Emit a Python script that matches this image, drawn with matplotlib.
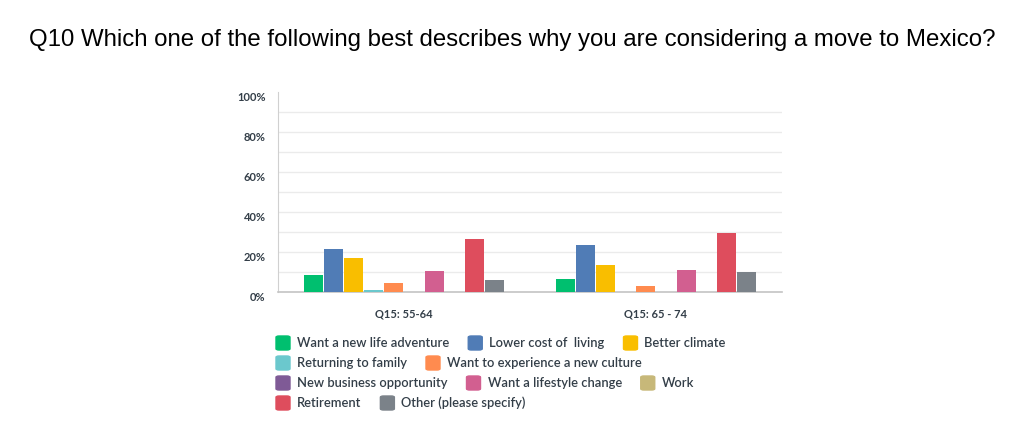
import matplotlib
matplotlib.use("Agg")
import matplotlib.pyplot as plt
from matplotlib.patches import FancyBboxPatch

# answers in the order SurveyMonkey lists them
answers = ["Want a new life adventure", "Lower cost of  living", "Better climate",
           "Returning to family", "Want to experience a new culture",
           "New business opportunity", "Want a lifestyle change", "Work",
           "Retirement", "Other (please specify)"]
colors = ["#00bf6f", "#507cb6", "#f9be00", "#6bc8cd", "#ff8b4f",
          "#7f5a96", "#d25f90", "#c7b879", "#de4d5d", "#7b8289"]
groups = ["Q15: 55-64", "Q15: 65 - 74"]
pct_55_64 = [8.5, 21.5, 17.0, 1.0, 4.7, 0.0, 10.5, 0.0, 26.5, 6.0]
pct_65_74 = [6.5, 23.5, 13.5, 0.0, 3.0, 0.0, 11.0, 0.0, 29.5, 10.0]
yticks = [0, 20, 40, 60, 80, 100]
legend_rows = [[0, 1, 2], [3, 4], [5, 6, 7], [8, 9]]

TXT = "#333e48"
FONT = "Lato"

fig = plt.figure(figsize=(10.24, 4.25), dpi=100)
ax = fig.add_axes([278 / 1024, 133 / 425, 504 / 1024, 200 / 425])

fig.text(0.5, 1 - 40 / 425, "Q10 Which one of the following best describes why you are considering a move to Mexico?",
         ha="center", va="center", fontsize=17.3, family="Liberation Sans", color="#000000")

pitch, width = 0.08, 0.075
for gi, vals in enumerate([pct_55_64, pct_65_74]):
    for i, v in enumerate(vals):
        if v > 0:
            ax.bar(gi + (i - 4.5) * pitch, v, width=width, color=colors[i], zorder=3)

ax.set_xlim(-0.5, 1.5)
ax.set_ylim(0, 100)
for y in range(10, 100, 10):
    ax.axhline(y, color="#ebebeb", lw=1, zorder=1)
for s in ["top", "right"]:
    ax.spines[s].set_visible(False)
ax.spines["left"].set_color("#d0d0d0")
ax.spines["bottom"].set_color("#c4c4c4")
ax.spines["bottom"].set_linewidth(1.2)

ax.set_yticks(yticks)
ax.set_yticklabels([f"{t}%" for t in yticks], fontsize=8, family=FONT, fontweight="bold",
                   color=TXT, va="top")
ax.tick_params(axis="y", length=0, pad=9)
ax.set_xticks(range(len(groups)))
ax.set_xticklabels(groups, fontsize=8, family=FONT, fontweight="bold", color=TXT)
ax.tick_params(axis="x", length=0, pad=12)

# legend laid out like the web page: squares with text, flowing in rows
fig.canvas.draw()
r = fig.canvas.get_renderer()
W, H = fig.bbox.width, fig.bbox.height
for ri, row in enumerate(legend_rows):
    yc = 343 + ri * 20
    x = 276
    for idx in row:
        fig.patches.append(FancyBboxPatch(((x) / W, 1 - (yc + 7) / H), 14 / W, 14 / H,
                                          boxstyle="round,pad=0,rounding_size=0.003",
                                          transform=fig.transFigure, color=colors[idx]))
        t = fig.text((x + 21) / W, 1 - yc / H, answers[idx], ha="left", va="center",
                     fontsize=9.3, family=FONT, fontweight="semibold", color=TXT)
        bb = t.get_window_extent(r)
        x = bb.x1 + 19

fig.savefig("out.png", dpi=100)
